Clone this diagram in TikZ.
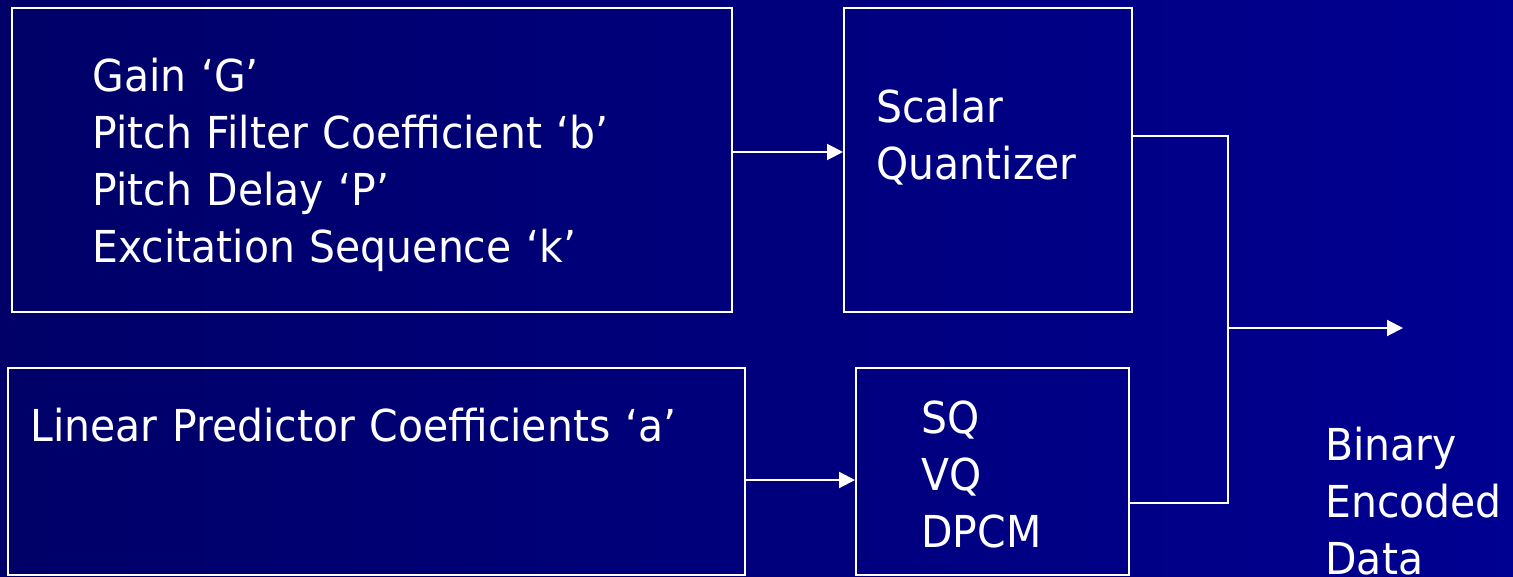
\documentclass[tikz,border=0pt]{standalone}
\usepackage{fontspec}
\setmainfont{DejaVu Sans}[FakeStretch=0.93]
\usetikzlibrary{arrows.meta,positioning,calc}
\definecolor{slideleft}{RGB}{0,0,104}
\definecolor{slideright}{RGB}{0,0,145}

\begin{document}
\begin{tikzpicture}[x=0.5pt,y=-0.5pt,
    every node/.style={font=\fontsize{22}{28.5}\selectfont,text=white},
    blk/.style={draw=white,line width=1pt,inner sep=0pt},
    lbl/.style={anchor=base west,align=left,inner sep=0pt,text width=400pt},
    arr/.style={-{Triangle[length=8pt,width=8pt]},white,line width=1pt},
    wire/.style={white,line width=1pt}
]
\shade[left color=slideleft,right color=slideright] (0,0) rectangle (1513,577);
\useasboundingbox (0,0) rectangle (1513,577);

% blocks
\node[blk,minimum width=360pt,minimum height=152pt] (params) at (372,160) {};
\node[blk,minimum width=144pt,minimum height=152pt] (scalar) at (988,160) {};
\node[blk,minimum width=368.5pt,minimum height=103.5pt] (lpc) at (376.5,471.5) {};
\node[blk,minimum width=136.5pt,minimum height=103.5pt] (vq) at (992.5,471.5) {};

% texts
\node[lbl] (paramstext) at (92,92) {Gain ‘G’\\Pitch Filter Coefficient ‘b’\\Pitch Delay ‘P’\\Excitation Sequence ‘k’};
\node[lbl] (scalartext) at (876,123) {Scalar\\Quantizer};
\node[lbl] (lpctext) at (30,441) {Linear Predictor Coefficients ‘a’};
\node[lbl,text width=90pt] (vqtext) at (921,433) {SQ\\VQ\\DPCM};
\node[lbl,text width=90pt] (outtext) at (1325,460) {Binary\\Encoded\\Data};

% connectors
\coordinate (bus) at (1228,328);
\coordinate (out) at (1403,328);
\draw[arr] ([yshift=4pt]params.east) -- ([yshift=4pt]scalar.west);
\draw[arr] ([yshift=-4.25pt]lpc.east) -- ([yshift=-4.25pt]vq.west);
\draw[wire] ([yshift=12pt]scalar.east) -| (bus) |- ([yshift=-15.75pt]vq.east);
\draw[arr] (bus) -- (out);
\end{tikzpicture}
\end{document}
